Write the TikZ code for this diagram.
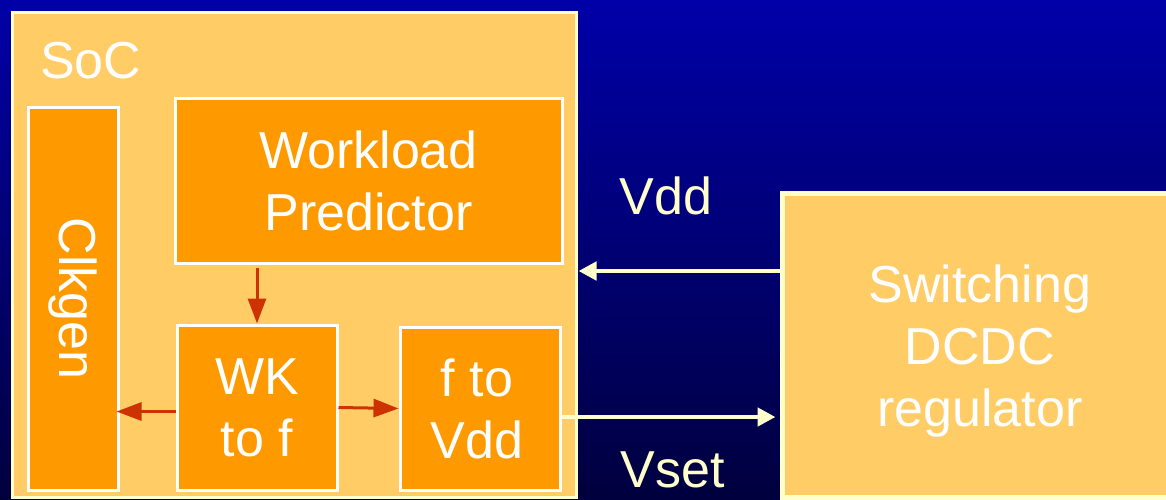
\documentclass[tikz,border=0pt]{standalone}
\usepackage{fontspec}
\setmainfont{Liberation Sans}
\usetikzlibrary{arrows.meta,calc}
\definecolor{cream}{HTML}{FFFFCC}
\definecolor{lightor}{HTML}{FFCC66}
\definecolor{orbox}{HTML}{FF9900}
\definecolor{redarr}{HTML}{CC3300}
\definecolor{bgtop}{RGB}{0,0,168}
\definecolor{bgbot}{RGB}{0,0,62}
\tikzset{
  txt/.style={text=white,font=\fontsize{52}{62}\selectfont,align=center,inner sep=0pt},
  outerbox/.style={draw=cream,fill=lightor,line width=3pt,inner sep=0pt},
  innerbox/.style={draw=white,fill=orbox,line width=3pt,inner sep=0pt,txt},
  redarrow/.style={draw=redarr,line width=3pt,-{Triangle[length=25pt,width=18pt]}},
  creamarrow/.style={draw=cream,line width=4.5pt,-{Triangle[length=18pt,width=18pt]}},
  lbl/.style={text=cream,font=\fontsize{52}{62}\selectfont,inner sep=0pt}
}
\begin{document}
\begin{tikzpicture}[x=1pt,y=-1pt]
\useasboundingbox (0,0) rectangle (1166,499);
\clip (0,0) rectangle (1166,499);
\shade[top color=bgtop,bottom color=bgbot] (0,0) rectangle (1166,499);
% SoC
\node[outerbox,minimum width=564pt,minimum height=485pt] (soc) at (294,254.5) {};
\node[txt,anchor=base west] (soclbl) at (40,78) {SoC};
\node[innerbox,minimum width=90pt,minimum height=383pt] (clk) at (73,298.5) {};
\node[txt,rotate=-90] (clklbl) at (clk.center) {Clkgen};
\node[innerbox,minimum width=387pt,minimum height=165pt] (wp) at (368.5,180.5) {Workload\\Predictor};
\node[innerbox,minimum width=160pt,minimum height=165pt] (wk) at (257,407.5) {WK\\to f};
\node[innerbox,minimum width=160pt,minimum height=163pt] (fv) at (480,408.5) {};
\node[txt] (fvlbl) at (477,409) {f to\\Vdd};
% Switching regulator
\node[outerbox,line width=5pt,minimum width=398pt,minimum height=304pt] (sw) at (981,345) {};
\node[txt] (swlbl) at (980,351) {Switching\\DCDC\\regulator};
% labels
\node[lbl] (vddlbl) at (666,196) {Vdd};
\node[lbl] (vsetlbl) at (673,470) {Vset};
% red arrows
\draw[redarrow] ($(wk.north |- wp.south)+(0,3)$) -- (wk.north);
\draw[redarrow] ($(wk.west)+(0,4)$) -- ($(clk.east |- wk.west)+(-3,4)$);
\draw[redarrow] (wk.east) -- (fv.west);
% cream arrows
\coordinate (vddy) at (0,271);
\coordinate (vsety) at (0,417);
\draw[creamarrow] (sw.west |- vddy) -- ($(soc.east |- vddy)+(1,0)$);
\draw[creamarrow] (fv.east |- vsety) -- ($(sw.west |- vsety)+(-4,0)$);
\end{tikzpicture}
\end{document}
